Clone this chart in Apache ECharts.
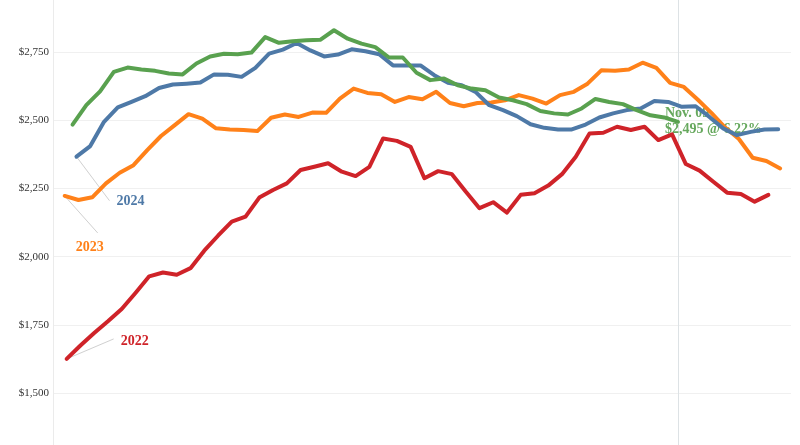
<!DOCTYPE html>
<html><head><meta charset="utf-8">
<script src="https://cdn.jsdelivr.net/npm/echarts@6/dist/echarts.min.js"></script>
<style>html,body{margin:0;padding:0;background:#fff}#c{width:800px;height:445px}</style>
</head><body><div id="c"></div>
<script>
// ---- data ----
const years = ['2022', '2023', '2024', '2025'];
const startDates = ['2022-01-02', '2023-01-01', '2024-01-07', '2025-01-05'];
const v2022 = [1625,1674,1720,1763,1808,1867,1928,1942,1934,1958,2022,2077,2129,2147,2217,2245,2269,2318,2330,2343,2312,2296,2330,2434,2425,2403,2288,2314,2303,2239,2178,2200,2162,2227,2233,2261,2303,2367,2452,2455,2477,2465,2477,2428,2449,2340,2316,2275,2235,2230,2202,2227];
const v2023 = [2223,2208,2218,2269,2308,2336,2391,2443,2483,2523,2507,2471,2467,2465,2461,2510,2522,2513,2529,2528,2580,2617,2601,2596,2568,2586,2578,2605,2564,2552,2564,2566,2574,2593,2580,2562,2593,2605,2635,2684,2682,2687,2712,2693,2638,2623,2577,2528,2474,2432,2363,2351,2324];
const v2024 = [2367,2406,2495,2548,2568,2589,2619,2632,2635,2639,2669,2668,2660,2693,2745,2760,2784,2757,2735,2742,2761,2754,2743,2702,2702,2702,2666,2638,2629,2605,2556,2538,2516,2486,2473,2467,2467,2485,2511,2526,2538,2544,2571,2568,2550,2552,2513,2471,2446,2458,2467,2468];
const v2025 = [2485,2556,2607,2678,2694,2687,2682,2672,2669,2709,2735,2745,2743,2749,2806,2785,2791,2794,2796,2831,2800,2782,2769,2731,2731,2675,2648,2654,2629,2617,2611,2584,2574,2560,2535,2526,2522,2544,2579,2568,2560,2538,2519,2511,2495];
const yearLabels = ['2022', '2023', '2024'];
const currentDateLabel = 'Nov. 09';
const currentValueLabel = '$2,495 @ 6.22%';
const currentDate = '2025-11-09';

const seriesValues = [v2022, v2023, v2024, v2025];
const colors = ['#cf2329', '#ff8119', '#4e79a7', '#59a14f'];

function dayOfYear(s) {
  const d = new Date(s + 'T00:00:00Z');
  return Math.round((d - Date.UTC(d.getUTCFullYear(), 0, 1)) / 86400000);
}
function build(vals, start) {
  const d0 = dayOfYear(start);
  return vals.map((v, i) => [d0 + 7 * i, v]);
}

const chart = echarts.init(document.getElementById('c'));
const serif = '"Liberation Serif", "Times New Roman", serif';

const series = years.map((y, k) => {
  const s = {
    name: y, type: 'line', data: build(seriesValues[k], startDates[k]),
    showSymbol: false, symbol: 'none', z: 2, animation: false,
    lineStyle: { color: colors[k], width: 4, cap: 'round', join: 'round' },
    itemStyle: { color: colors[k] }
  };
  if (k === 3) {
    s.markLine = {
      silent: true, symbol: 'none', animation: false, z: 1,
      label: { show: false },
      lineStyle: { color: '#dde2e5', width: 1, type: 'solid' },
      data: [{ xAxis: dayOfYear(currentDate) }]
    };
  }
  return s;
});

chart.setOption({
  animation: false,
  backgroundColor: '#fff',
  grid: { left: 53, right: 9, top: -15.8, bottom: -16.1, containLabel: false, outerBoundsMode: 'none' },
  xAxis: {
    type: 'value', min: -5.95, max: 369.5,
    axisLine: { show: false }, axisTick: { show: false },
    axisLabel: { show: false }, splitLine: { show: false }
  },
  yAxis: {
    type: 'value', min: 1250, max: 3000, interval: 250,
    axisLine: { show: true, onZero: false, lineStyle: { color: '#ebebeb', width: 1 } },
    axisTick: { show: false },
    splitLine: { show: true, lineStyle: { color: '#f0f0f0', width: 1 } },
    axisLabel: {
      show: true, margin: 4, color: '#333', fontSize: 11, fontFamily: serif,
      showMinLabel: false, showMaxLabel: false,
      formatter: v => '$' + v.toLocaleString('en-US')
    }
  },
  series: series
});

// annotations positioned through the chart's own scales
const graphics = [];
const specs = [
  { k: 0, lineEnd: [47, -20], labelPos: [54, -18] },
  { k: 1, lineEnd: [33, 37], labelPos: [11, 51] },
  { k: 2, lineEnd: [33, 44], labelPos: [40, 45] }
];
specs.forEach(sp => {
  const first = build(seriesValues[sp.k], startDates[sp.k])[0];
  const p = chart.convertToPixel({ gridIndex: 0 }, first);
  graphics.push({
    type: 'line', z: 1, silent: true,
    shape: { x1: p[0], y1: p[1], x2: p[0] + sp.lineEnd[0], y2: p[1] + sp.lineEnd[1] },
    style: { stroke: '#d0d0d0', lineWidth: 1 }
  });
  graphics.push({
    type: 'text', z: 1, silent: true,
    style: {
      text: yearLabels[sp.k], x: p[0] + sp.labelPos[0], y: p[1] + sp.labelPos[1],
      fill: colors[sp.k], font: 'bold 14px ' + serif,
      textAlign: 'left', textVerticalAlign: 'middle', align: 'left', verticalAlign: 'middle'
    }
  });
});
const lastData = build(v2025, startDates[3]);
const pe = chart.convertToPixel({ gridIndex: 0 }, lastData[lastData.length - 1]);
[[currentDateLabel, -8], [currentValueLabel, 8]].forEach(([t, dy]) => {
  graphics.push({
    type: 'text', z: 1, silent: true,
    style: {
      text: t, x: pe[0] - 13, y: pe[1] + dy,
      fill: colors[3], font: 'bold 14px ' + serif, opacity: 0.92,
      textAlign: 'left', textVerticalAlign: 'middle', align: 'left', verticalAlign: 'middle'
    }
  });
});
chart.setOption({ graphic: { elements: graphics } });
</script>
</body></html>
